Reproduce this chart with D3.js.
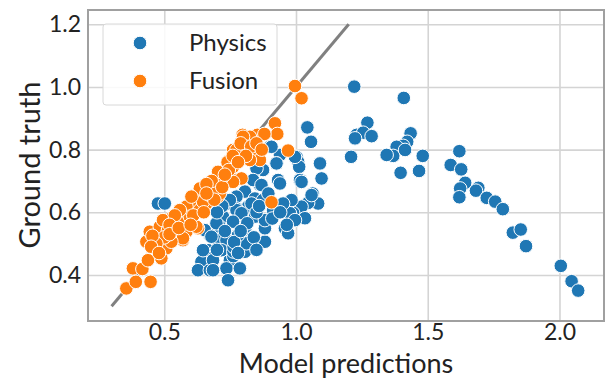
<!DOCTYPE html>
<html>
<head>
<meta charset="utf-8">
<script src="https://cdn.jsdelivr.net/npm/d3@7"></script>
<style>
  body { margin: 0; background: #fff; }
  text { font-family: Lato, "Open Sans", sans-serif; fill: #222; }
</style>
</head>
<body>
<svg id="chart" width="605" height="379"></svg>
<script>
// ground truth vs model predictions
var xTicks = [0.5, 1.0, 1.5, 2.0];
var yTicks = [0.4, 0.6, 0.8, 1.0, 1.2];
var identity = [[0.3, 0.3], [1.2, 1.2]];

var physics = [
  [1.620, 0.795], [1.587, 0.751], [1.627, 0.737], [1.642, 0.694], [1.623, 0.676], [1.620, 0.648],
  [1.692, 0.678], [1.683, 0.669], [1.724, 0.646], [1.756, 0.634], [1.785, 0.610], [1.823, 0.535],
  [1.853, 0.545], [1.873, 0.492], [2.005, 0.429], [2.046, 0.380], [2.071, 0.350],
  [1.221, 1.001], [1.409, 0.965], [1.043, 0.871], [1.057, 0.825], [1.271, 0.886], [1.230, 0.847],
  [1.255, 0.854], [1.287, 0.843], [1.224, 0.836], [1.209, 0.777], [1.435, 0.852], [1.422, 0.825],
  [1.407, 0.812], [1.382, 0.809], [1.369, 0.780], [1.344, 0.783], [1.414, 0.799], [1.481, 0.780],
  [1.397, 0.726], [1.467, 0.732], [1.091, 0.756], [1.097, 0.708], [1.017, 0.703], [1.063, 0.660],
  [1.084, 0.628], [1.046, 0.630], [1.021, 0.618], [0.989, 0.598], [1.002, 0.777], [1.008, 0.761],
  [1.012, 0.745], [0.901, 0.809], [0.939, 0.783], [0.996, 0.777], [0.926, 0.756], [0.875, 0.735],
  [0.850, 0.740], [0.932, 0.703], [1.015, 0.703], [0.863, 0.687], [0.837, 0.703], [0.806, 0.666],
  [0.774, 0.650], [0.844, 0.644], [0.875, 0.639], [0.818, 0.618], [0.774, 0.612], [0.742, 0.628],
  [0.983, 0.639], [0.869, 0.687], [0.939, 0.692], [1.021, 0.697], [1.059, 0.655], [0.977, 0.597],
  [1.034, 0.581], [0.996, 0.575], [0.958, 0.549], [0.970, 0.533], [0.882, 0.506], [0.882, 0.549],
  [0.844, 0.586], [0.812, 0.559], [0.812, 0.527], [0.774, 0.607], [0.749, 0.639], [0.831, 0.628],
  [0.793, 0.597], [0.723, 0.586], [0.711, 0.554], [0.761, 0.570], [0.673, 0.527], [0.704, 0.511],
  [0.761, 0.479], [0.806, 0.474], [0.812, 0.501], [0.749, 0.447], [0.666, 0.479], [0.641, 0.442],
  [0.628, 0.415], [0.673, 0.415], [0.736, 0.421], [0.787, 0.421], [0.742, 0.383], [0.685, 0.447],
  [0.654, 0.543], [0.736, 0.511], [0.780, 0.527], [0.882, 0.575], [0.913, 0.607], [0.951, 0.628],
  [0.476, 0.628], [0.502, 0.628], [0.698, 0.565], [0.679, 0.522], [0.647, 0.479], [0.717, 0.479],
  [0.685, 0.415], [0.907, 0.809], [0.926, 0.756], [0.762, 0.460], [0.762, 0.475], [0.763, 0.490],
  [0.765, 0.505], [0.806, 0.545], [0.810, 0.555], [0.815, 0.565], [0.850, 0.600], [0.860, 0.620],
  [0.895, 0.660], [0.910, 0.580], [0.940, 0.600], [0.965, 0.560], [0.720, 0.620], [0.700, 0.600],
  [0.730, 0.540], [0.790, 0.540], [0.840, 0.520], [0.850, 0.480], [0.700, 0.480], [0.780, 0.470]
];

var fusion = [
  [0.920, 0.884], [0.929, 0.850], [0.853, 0.847], [0.797, 0.847], [0.825, 0.841], [0.970, 0.797],
  [0.780, 0.788], [0.806, 0.799], [0.761, 0.799], [0.844, 0.788], [0.863, 0.767], [0.825, 0.767],
  [0.749, 0.767], [0.717, 0.729], [0.755, 0.708], [0.793, 0.708], [0.730, 0.697], [0.698, 0.676],
  [0.673, 0.682], [0.647, 0.660], [0.704, 0.650], [0.597, 0.618], [0.635, 0.628], [0.571, 0.602],
  [0.907, 0.632], [0.711, 0.660], [0.761, 0.697], [0.584, 0.612], [0.622, 0.628], [0.660, 0.628],
  [0.597, 0.570], [0.628, 0.549], [0.571, 0.511], [0.685, 0.682], [0.356, 0.357], [0.392, 0.378],
  [0.448, 0.378], [0.381, 0.421], [0.417, 0.419], [0.457, 0.469], [0.470, 0.479], [0.438, 0.447],
  [0.432, 0.506], [0.464, 0.511], [0.508, 0.485], [0.489, 0.453], [0.445, 0.538], [0.483, 0.554],
  [0.514, 0.543], [0.527, 0.581], [0.495, 0.575], [0.559, 0.565], [0.584, 0.538], [0.546, 0.522],
  [0.584, 0.618], [0.597, 0.586], [0.635, 0.607], [0.647, 0.634], [0.559, 0.607], [0.571, 0.517],
  [0.527, 0.506], [0.622, 0.554], [0.673, 0.655], [0.692, 0.676], [0.717, 0.708], [0.704, 0.729],
  [0.635, 0.676], [0.603, 0.650], [0.996, 1.003], [1.021, 0.964], [0.799, 0.841], [0.774, 0.799],
  [0.812, 0.809], [0.761, 0.745], [0.740, 0.760], [0.790, 0.820], [0.830, 0.810], [0.880, 0.850],
  [0.680, 0.700], [0.660, 0.690], [0.720, 0.680], [0.745, 0.735], [0.690, 0.640], [0.610, 0.590],
  [0.540, 0.590], [0.520, 0.560], [0.500, 0.520], [0.470, 0.500], [0.455, 0.525], [0.450, 0.490],
  [0.480, 0.470], [0.520, 0.530], [0.555, 0.550], [0.600, 0.560], [0.650, 0.600], [0.660, 0.660],
  [0.760, 0.780], [0.810, 0.780], [0.850, 0.820], [0.870, 0.800], [0.780, 0.760], [0.730, 0.720]
];

var W = 605, H = 379;
var margin = { left: 88, right: 1, top: 10, bottom: 58 };

var svg = d3.select("#chart");

var x = d3.scaleLinear().domain([0.2105, 2.169]).range([margin.left, W - margin.right]);
var y = d3.scaleLinear().domain([0.253, 1.2457]).range([H - margin.bottom, margin.top]);

// grid
svg.append("g")
  .attr("transform", "translate(0," + (H - margin.bottom) + ")")
  .call(d3.axisBottom(x).tickValues(xTicks).tickSize(-(H - margin.bottom - margin.top)).tickFormat(""))
  .call(function (g) { g.select(".domain").remove(); })
  .selectAll("line").attr("stroke", "#d4d4d4").attr("stroke-width", 1.6);

svg.append("g")
  .attr("transform", "translate(" + margin.left + ",0)")
  .call(d3.axisLeft(y).tickValues(yTicks).tickSize(-(W - margin.left - margin.right)).tickFormat(""))
  .call(function (g) { g.select(".domain").remove(); })
  .selectAll("line").attr("stroke", "#d4d4d4").attr("stroke-width", 1.6);

// identity line
svg.append("path")
  .datum(identity)
  .attr("d", d3.line().x(function (d) { return x(d[0]); }).y(function (d) { return y(d[1]); }))
  .attr("stroke", "#808080")
  .attr("stroke-width", 3)
  .attr("fill", "none");

function dots(data, color) {
  svg.append("g").selectAll("circle")
    .data(data)
    .enter().append("circle")
    .attr("cx", function (d) { return x(d[0]); })
    .attr("cy", function (d) { return y(d[1]); })
    .attr("r", 6.8)
    .attr("fill", color)
    .attr("stroke", "#fff")
    .attr("stroke-width", 1);
}
dots(physics, "#1f77b4");
dots(fusion, "#ff7f0e");

// frame
svg.append("rect")
  .attr("x", margin.left).attr("y", margin.top)
  .attr("width", W - margin.left - margin.right)
  .attr("height", H - margin.bottom - margin.top)
  .attr("fill", "none").attr("stroke", "#a0a0a0").attr("stroke-width", 2);

// tick labels
var xl = svg.append("g")
  .attr("transform", "translate(0," + (H - margin.bottom) + ")")
  .call(d3.axisBottom(x).tickValues(xTicks).tickSize(0).tickPadding(3).tickFormat(d3.format(".1f")));
xl.select(".domain").remove();
xl.selectAll("text").attr("font-size", 23).attr("font-family", "Lato").attr("fill", "#222");

var yl = svg.append("g")
  .attr("transform", "translate(" + margin.left + ",0)")
  .call(d3.axisLeft(y).tickValues(yTicks).tickSize(0).tickPadding(7).tickFormat(d3.format(".1f")));
yl.select(".domain").remove();
yl.selectAll("text").attr("font-size", 23).attr("font-family", "Lato").attr("fill", "#222");

// axis titles
svg.append("text")
  .attr("x", 346).attr("y", 372.5)
  .attr("text-anchor", "middle")
  .attr("font-size", 27)
  .text("Model predictions");

svg.append("text")
  .attr("transform", "translate(40,165) rotate(-90)")
  .attr("text-anchor", "middle")
  .attr("font-size", 29)
  .text("Ground truth");

// legend
var legend = svg.append("g");
legend.append("rect")
  .attr("x", 103).attr("y", 24).attr("width", 174).attr("height", 81)
  .attr("rx", 3)
  .attr("fill", "#fff").attr("fill-opacity", 0.85)
  .attr("stroke", "#d8d8d8").attr("stroke-width", 1);

[["Physics", "#1f77b4", 43], ["Fusion", "#ff7f0e", 81]].forEach(function (item) {
  legend.append("circle")
    .attr("cx", 140).attr("cy", item[2]).attr("r", 6.8)
    .attr("fill", item[1]).attr("stroke", "#fff").attr("stroke-width", 1);
  legend.append("text")
    .attr("x", 189).attr("y", item[2])
    .attr("dy", "0.35em")
    .attr("font-size", 24)
    .text(item[0]);
});
</script>
</body>
</html>
